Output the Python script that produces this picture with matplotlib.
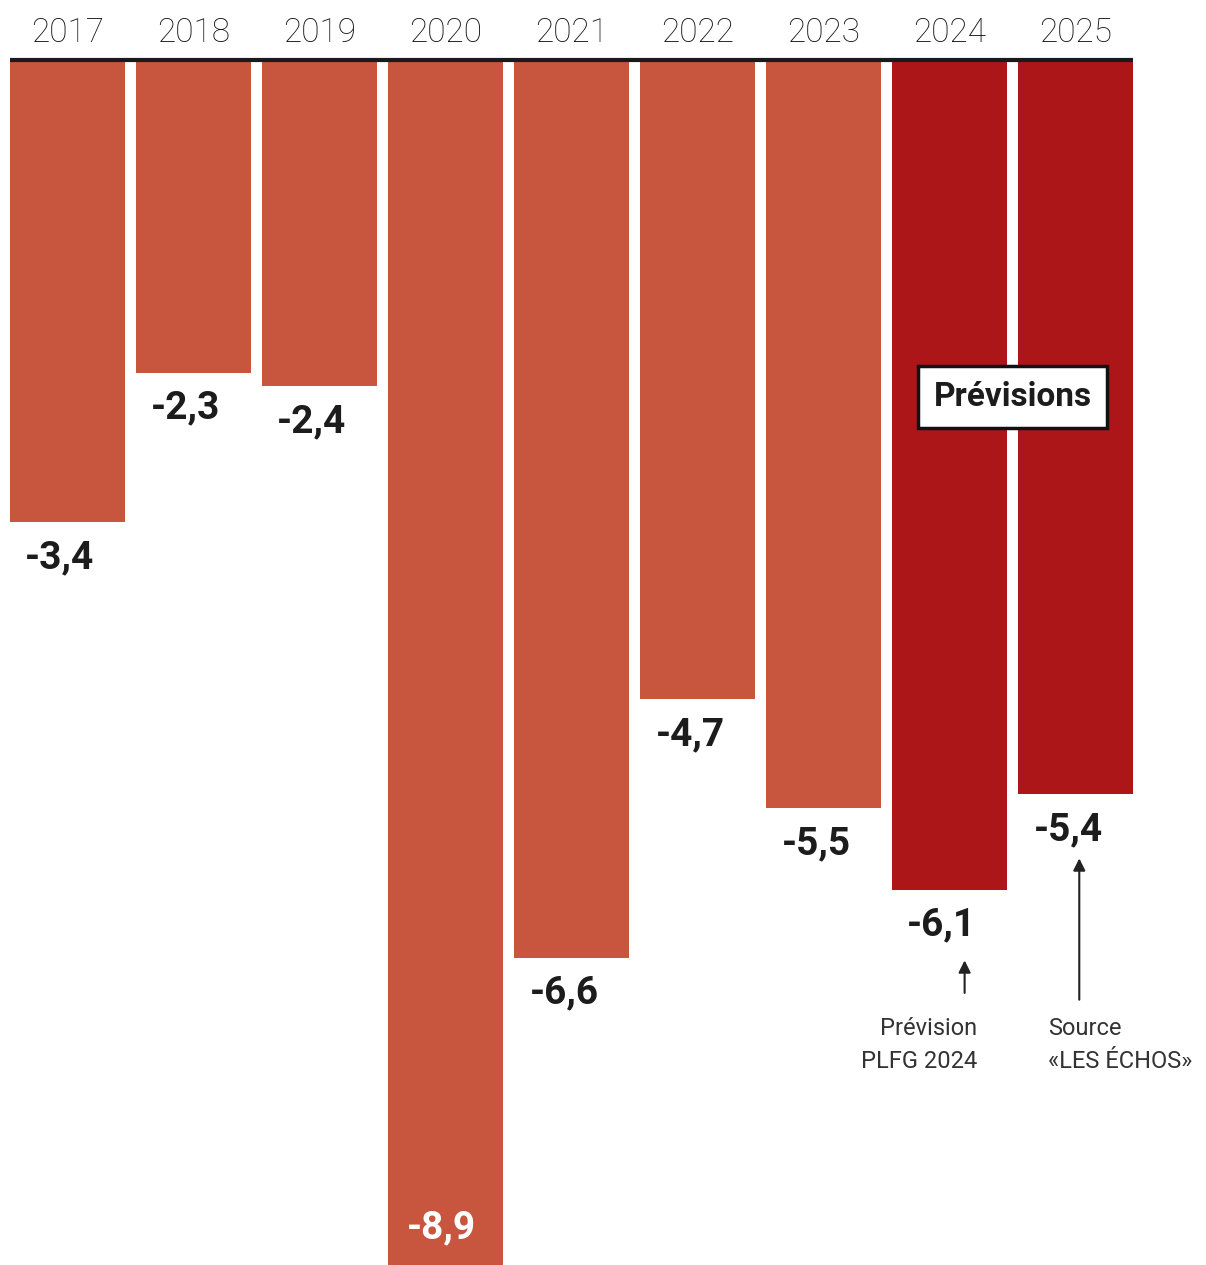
import matplotlib.pyplot as plt
import numpy as np

annees = ['2017', '2018', '2019', '2020', '2021', '2022', '2023', '2024', '2025']
deficit = [-3.4, -2.3, -2.4, -8.9, -6.6, -4.7, -5.5, -6.1, -5.4]
prevision = [False, False, False, False, False, False, False, True, True]
etiquettes = ['-3,4', '-2,3', '-2,4', '-8,9', '-6,6', '-4,7', '-5,5', '-6,1', '-5,4']

col_passe = '#c8553d'
col_prev = '#ad1619'
col_texte = '#1c1c1c'
police_fine = ['Roboto', 'DejaVu Sans']
police_gras = ['Roboto', 'DejaVu Sans']

fig = plt.figure(figsize=(12.06, 12.65), dpi=100)
ax = fig.add_axes([0, 0, 1, 1])

x = np.arange(len(annees))
largeur = 0.905
couleurs = [col_prev if p else col_passe for p in prevision]
ax.bar(x, deficit, width=largeur, color=couleurs, align='center', zorder=2)

# axe des x = ligne du zero
ax.plot([x[0] - largeur / 2, x[-1] + largeur / 2], [0, 0], color='#1a1a1a', lw=3, zorder=3,
        solid_capstyle='butt')

# annees au dessus
for i, a in enumerate(annees):
    ax.text(i, 0.2, a, ha='center', va='center', fontsize=24, color='#111111',
            family=police_fine, fontweight='light')

# valeurs sous les barres
for i, (v, lab) in enumerate(zip(deficit, etiquettes)):
    if v < -8:
        ax.text(i - 0.03, -8.59, lab, ha='center', va='center', fontsize=28, color='white',
                fontweight='bold', family=police_gras)
    else:
        ax.text(i - 0.06, v - 0.26, lab, ha='center', va='center', fontsize=28, color=col_texte,
                fontweight='bold', family=police_gras)

# encadre Previsions
ax.text(7.5, -2.48, 'Prévisions', ha='center', va='center', fontsize=24, fontweight='bold',
        color=col_texte, family=police_gras,
        bbox=dict(boxstyle='square,pad=0.45', fc='white', ec='#111111', lw=2.5), zorder=5)

# fleches et notes
ax.annotate('', xy=(7.12, deficit[7] - 0.5), xytext=(7.12, deficit[7] - 0.78),
            arrowprops=dict(arrowstyle='-|>', color='#222222', lw=1.5, mutation_scale=18))
ax.text(7.22, -7.04, 'Prévision\nPLFG 2024', ha='right', va='top', fontsize=17,
        color='#333333', family=police_fine, linespacing=1.55)

ax.annotate('', xy=(8.03, deficit[8] - 0.45), xytext=(8.03, deficit[8] - 1.53),
            arrowprops=dict(arrowstyle='-|>', color='#222222', lw=1.5, mutation_scale=18))
ax.text(7.78, -7.04, 'Source\n«LES ÉCHOS»', ha='left', va='top', fontsize=17,
        color='#333333', family=police_fine, linespacing=1.55)

ax.set_xlim(-67.5 / 126, (1206 - 67.5) / 126)
ax.set_ylim(-(1265 - 60) / 136, 60 / 136)
ax.axis('off')

fig.savefig('out.png', dpi=100, facecolor='white')
